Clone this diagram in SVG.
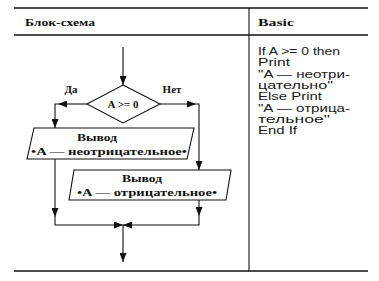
<svg xmlns="http://www.w3.org/2000/svg" width="379" height="281" viewBox="0 0 379 281">
<defs>
<marker id="ah" markerUnits="userSpaceOnUse" markerWidth="9" markerHeight="7" refX="9" refY="3.5" orient="auto"><path d="M0,0 L9,3.5 L0,7 z" fill="#111"/></marker>
<style>
.rule{stroke:#111;fill:none}
.ln{stroke:#111;stroke-width:1.1;fill:none}
.box{stroke:#111;stroke-width:1.1;fill:#fff}
.hd{font-family:"Liberation Serif",serif;font-weight:bold;font-size:10.5px;fill:#111}
.fc{font-family:"Liberation Serif",serif;font-weight:bold;font-size:11px;fill:#111}
.code{font-family:"Liberation Sans",Arial,sans-serif;font-size:11.5px;fill:#1a1a1a}
</style>
</defs>
<rect width="379" height="281" fill="#fff"/>
<g id="table">
<line class="rule" x1="14" y1="8" x2="368" y2="8" stroke-width="1.6"/>
<line class="rule" x1="14" y1="35" x2="368" y2="35" stroke-width="1.3"/>
<line class="rule" x1="14" y1="271" x2="368" y2="271" stroke-width="1.6"/>
<line class="rule" x1="249" y1="8" x2="249" y2="271" stroke-width="1.1"/>
<text class="hd" x="25" y="26" textLength="70" lengthAdjust="spacingAndGlyphs">Блок-схема</text>
<text class="hd" x="258" y="26" textLength="36" lengthAdjust="spacingAndGlyphs">Basic</text>
</g>
<g id="code">
<text class="code" x="258" y="55" textLength="82" lengthAdjust="spacingAndGlyphs">If A &gt;= 0 then</text>
<text class="code" x="258" y="66.3" textLength="32" lengthAdjust="spacingAndGlyphs">Print</text>
<text class="code" x="258" y="77.6" textLength="92" lengthAdjust="spacingAndGlyphs">"A — неотри-</text>
<text class="code" x="258" y="88.9" textLength="75" lengthAdjust="spacingAndGlyphs">цательно"</text>
<text class="code" x="258" y="100.2" textLength="64" lengthAdjust="spacingAndGlyphs">Else Print</text>
<text class="code" x="258" y="111.5" textLength="92" lengthAdjust="spacingAndGlyphs">"A — отрица-</text>
<text class="code" x="258" y="122.8" textLength="72" lengthAdjust="spacingAndGlyphs">тельное"</text>
<text class="code" x="258" y="134.1" textLength="39" lengthAdjust="spacingAndGlyphs">End If</text>
</g>
<g id="connectors">
<path class="ln" d="M123,47 V85" marker-end="url(#ah)"/>
<path class="ln" d="M87,104 H58" marker-end="url(#ah)"/>
<path class="ln" d="M58,104 H55 V128" marker-end="url(#ah)"/>
<path class="ln" d="M160,104 H196" marker-end="url(#ah)"/>
<path class="ln" d="M196,104 H199 V170" marker-end="url(#ah)"/>
<path class="ln" d="M55,159 V217" marker-end="url(#ah)"/>
<path class="ln" d="M55,217 V225 H123" marker-end="url(#ah)"/>
<path class="ln" d="M199,200 V216" marker-end="url(#ah)"/>
<path class="ln" d="M199,216 V225 H123" marker-end="url(#ah)"/>
<path class="ln" d="M123,225 V262" marker-end="url(#ah)"/>
</g>
<g id="decision">
<polygon class="box" points="123,85 160,104 123,123 87,104"/>
<text class="fc" x="123" y="108" text-anchor="middle">A &gt;= 0</text>
<text class="fc" x="71" y="93" text-anchor="middle">Да</text>
<text class="fc" x="172" y="93" text-anchor="middle">Нет</text>
</g>
<g id="output-yes">
<polygon class="box" points="34,128 194,128 187,159 27,159"/>
<text class="fc" x="97" y="141" text-anchor="middle" textLength="40" lengthAdjust="spacingAndGlyphs">Вывод</text>
<text class="fc" x="109" y="155" text-anchor="middle" textLength="156" lengthAdjust="spacingAndGlyphs">•A — неотрицательное•</text>
</g>
<g id="output-no">
<polygon class="box" points="74,170 231,170 226,200 69,200"/>
<text class="fc" x="142" y="182" text-anchor="middle" textLength="40" lengthAdjust="spacingAndGlyphs">Вывод</text>
<text class="fc" x="147" y="196" text-anchor="middle" textLength="140" lengthAdjust="spacingAndGlyphs">•A — отрицательное•</text>
</g>
</svg>
